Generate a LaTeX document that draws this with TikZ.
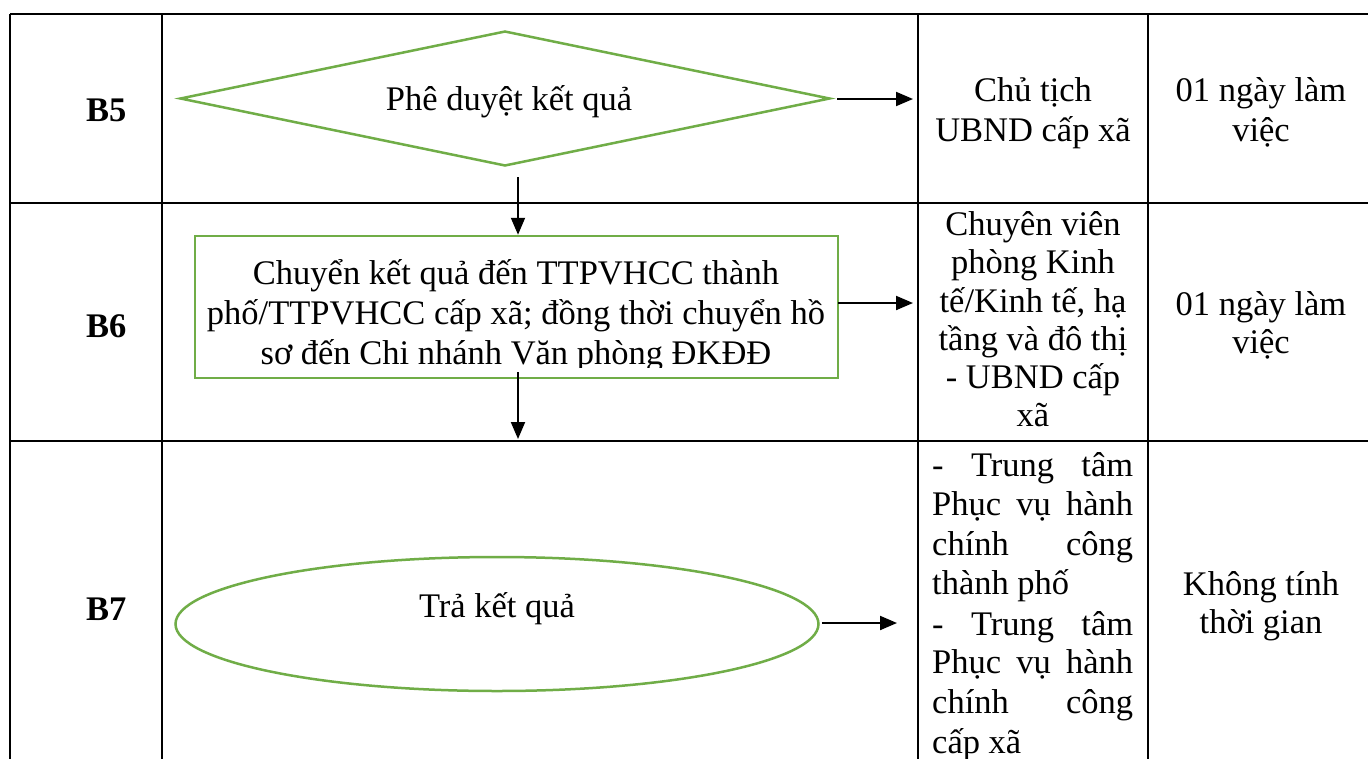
\documentclass[tikz,border=0pt]{standalone}
\usepackage{fontspec}
\setmainfont{Liberation Serif}
\usetikzlibrary{shapes.geometric,arrows.meta}
\definecolor{lgreen}{RGB}{112,173,71}
\begin{document}
\begin{tikzpicture}[x=1pt,y=-1pt,
  grid/.style={line width=2.4pt,black},
  shp/.style={draw=lgreen,line width=2.5pt},
  arr/.style={line width=2pt,-{Triangle[length=17pt,width=14pt]}},
  txt/.style={font=\fontsize{34.5}{39}\selectfont,inner sep=0pt,anchor=base},
  jtxt/.style={font=\fontsize{34.5}{39}\selectfont,inner sep=0pt,anchor=base west},
  lbl/.style={font=\fontsize{34.5}{39}\selectfont\bfseries,inner sep=0pt,anchor=base west},
]
\useasboundingbox (0,0) rectangle (1368,758);
\fill[white] (0,0) rectangle (1368,758);
% table grid
\draw[grid] (10,14) -- (1380,14);
\draw[grid] (10,203) -- (1380,203);
\draw[grid] (10,441) -- (1380,441);
\draw[grid] (10,14) -- (10,770);
\draw[grid] (162,14) -- (162,770);
\draw[grid] (918,14) -- (918,770);
\draw[grid] (1148,14) -- (1148,770);
% step labels
\node[lbl] (b5) at (86,121) {B5};
\node[lbl] (b6) at (86,337) {B6};
\node[lbl] (b7) at (86,620) {B7};
% B5 diamond
\node[shp,diamond,aspect=4.8,inner sep=0pt,minimum width=650pt,minimum height=135pt] (dia) at (505,98.5) {};
\node[txt] (t5) at (509,110) {Phê duyệt kết quả};
% B6 box
\node[shp,rectangle,minimum width=643pt,minimum height=142pt,inner sep=0pt] (box) at (516.5,307) {};
\begin{scope}
\clip (197,238) rectangle (836,367);
\node[txt] (t6a) at (516,284) {Chuyển kết quả đến TTPVHCC thành};
\node[txt] (t6b) at (516,324) {phố/TTPVHCC cấp xã; đồng thời chuyển hồ};
\node[txt] (t6c) at (516,364) {sơ đến Chi nhánh Văn phòng ĐKĐĐ};
\end{scope}
% B7 ellipse
\node[shp,ellipse,minimum width=643pt,minimum height=134pt,inner sep=0pt] (ell) at (497,624) {};
\node[txt] (t7) at (497,617) {Trả kết quả};
% column 3
\node[txt] (c5a) at (1033,101) {Chủ tịch};
\node[txt] (c5b) at (1033,141) {UBND cấp xã};
\node[txt] (c6a) at (1033,235) {Chuyên viên};
\node[txt] (c6b) at (1033,273) {phòng Kinh};
\node[txt] (c6c) at (1033,312) {tế/Kinh tế, hạ};
\node[txt] (c6d) at (1033,350) {tầng và đô thị};
\node[txt] (c6e) at (1033,388) {- UBND cấp};
\node[txt] (c6f) at (1033,426) {xã};
\node[jtxt] (c7a) at (932,476) {\makebox[201pt][s]{- Trung tâm}};
\node[jtxt] (c7b) at (932,515) {\makebox[201pt][s]{Phục vụ hành}};
\node[jtxt] (c7c) at (932,555) {\makebox[201pt][s]{chính công}};
\node[jtxt] (c7d) at (932,594) {thành phố};
\node[jtxt] (c7e) at (932,635) {\makebox[201pt][s]{- Trung tâm}};
\node[jtxt] (c7f) at (932,673) {\makebox[201pt][s]{Phục vụ hành}};
\node[jtxt] (c7g) at (932,713) {\makebox[201pt][s]{chính công}};
\node[jtxt] (c7h) at (932,753) {cấp xã};
% column 4
\node[txt] (d5a) at (1261,101) {01 ngày làm};
\node[txt] (d5b) at (1261,141) {việc};
\node[txt] (d6a) at (1261,315) {01 ngày làm};
\node[txt] (d6b) at (1261,353) {việc};
\node[txt] (d7a) at (1261,595) {Không tính};
\node[txt] (d7b) at (1261,633) {thời gian};
% connectors
\coordinate (h5s) at (837,99);
\coordinate (h5e) at (913,99);
\draw[arr] (h5s) -- (h5e);
\coordinate (v1) at (518,177);
\draw[arr] (v1) -- (v1 |- box.north);
\coordinate (h6s) at (838,303);
\coordinate (h6e) at (913,303);
\draw[arr] (h6s) -- (h6e);
\coordinate (v2) at (518,372);
\coordinate (v2e) at (518,439);
\draw[arr] (v2) -- (v2e);
\coordinate (h7e) at (897,623);
\draw[arr] (ell.east |- h7e) ++(2,0) -- (h7e);
\end{tikzpicture}
\end{document}
